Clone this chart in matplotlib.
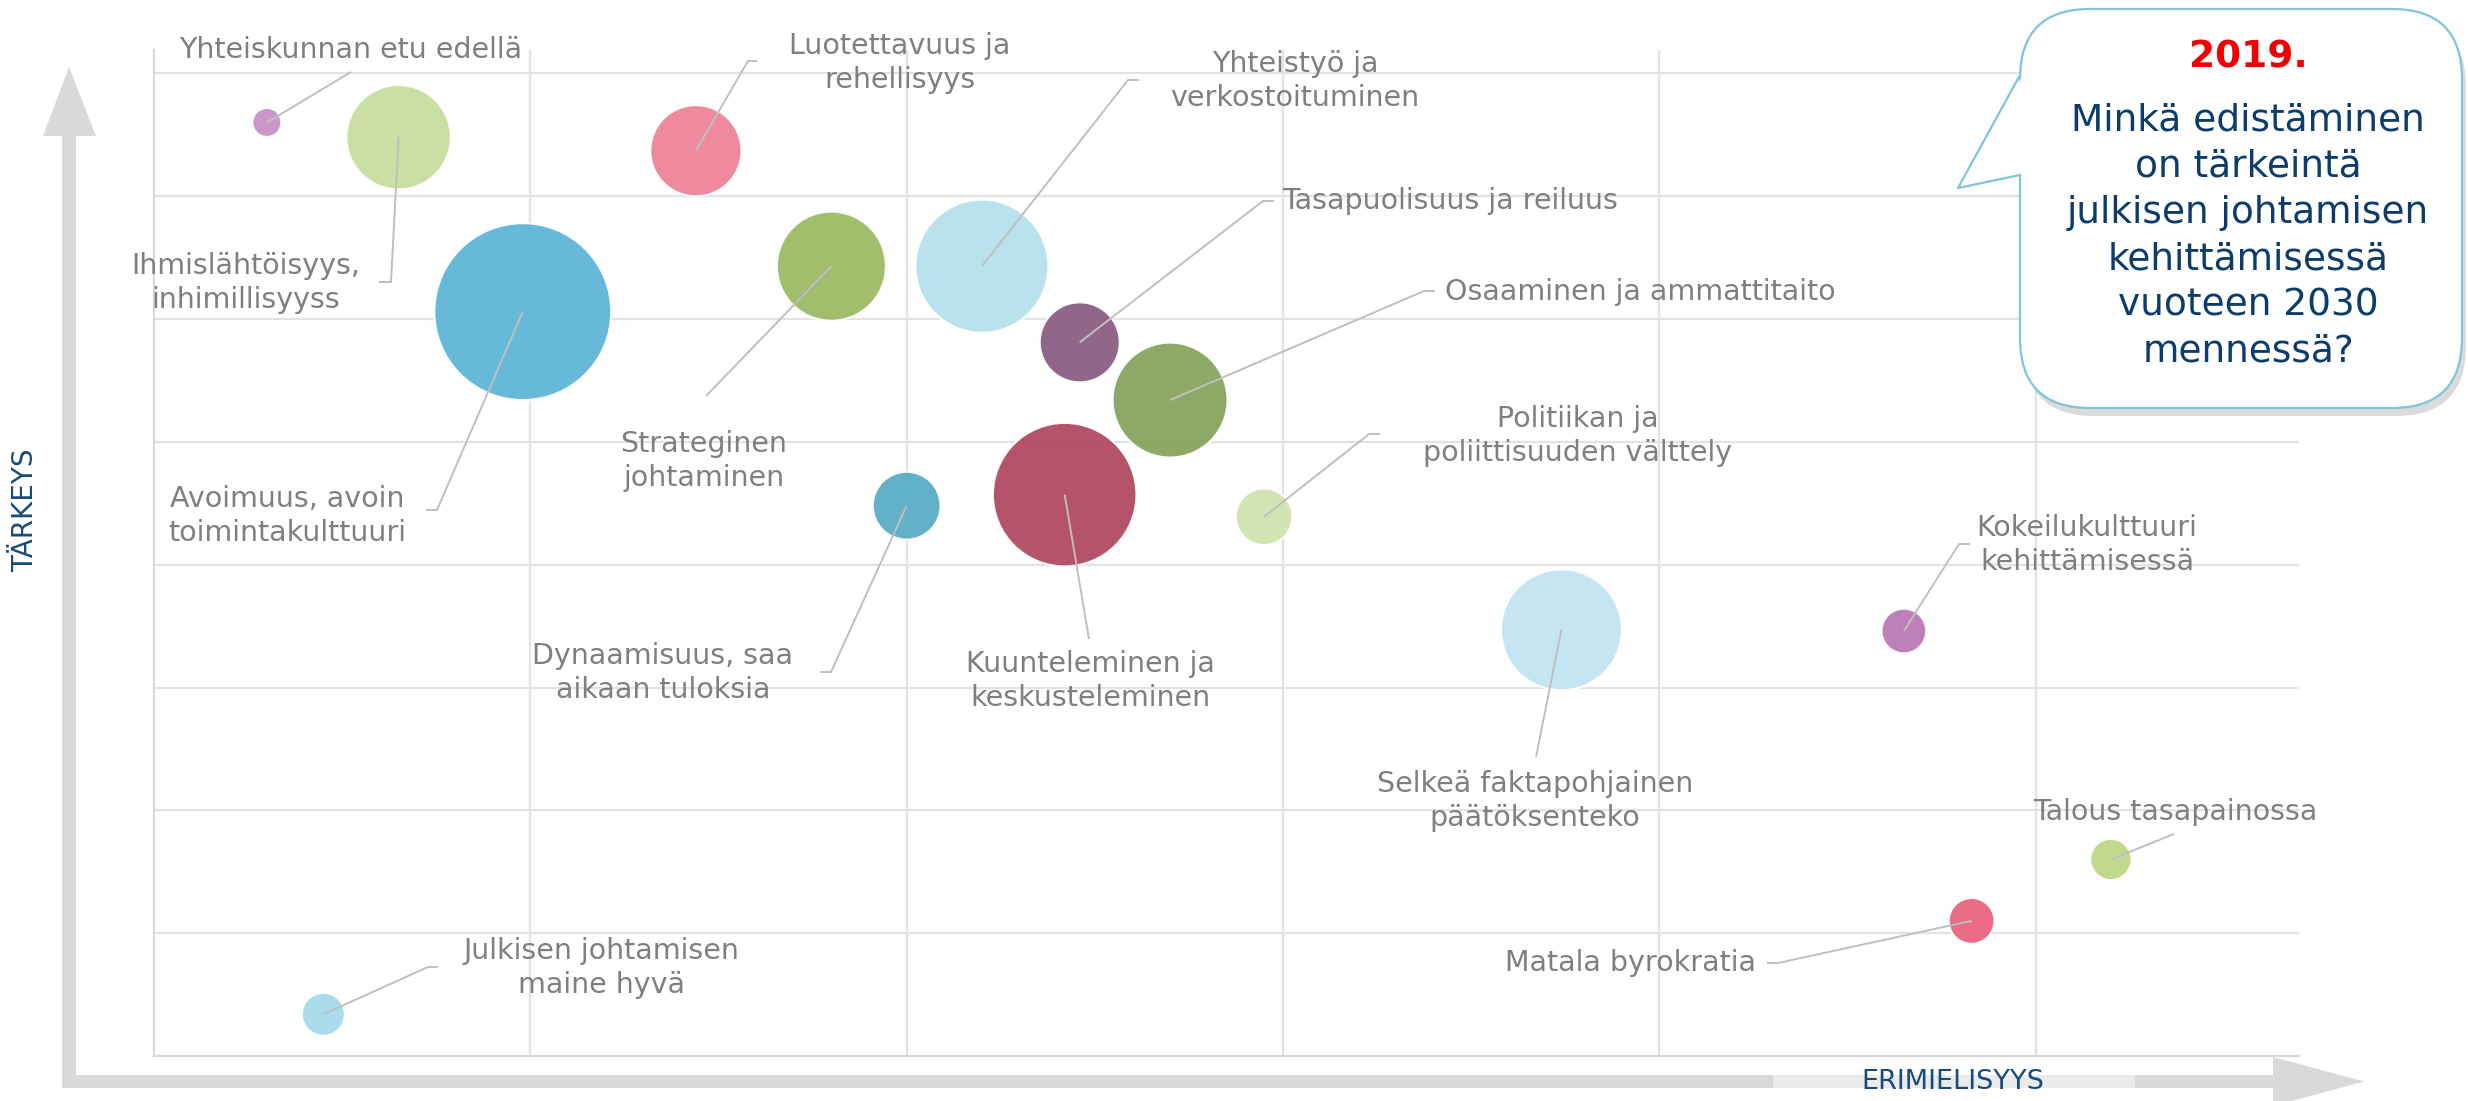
import matplotlib
matplotlib.use("Agg")
import matplotlib.pyplot as plt
from matplotlib.patches import FancyBboxPatch, Polygon, Rectangle

plt.rcParams['font.family'] = ['DejaVu Sans']

# ---------------- data ----------------
categories = [
    "Yhteiskunnan etu edellä",
    "Ihmislähtöisyys,\ninhimillisyyss",
    "Luotettavuus ja\nrehellisyys",
    "Avoimuus, avoin\ntoimintakulttuuri",
    "Strateginen\njohtaminen",
    "Yhteistyö ja\nverkostoituminen",
    "Tasapuolisuus ja reiluus",
    "Osaaminen ja ammattitaito",
    "Dynaamisuus, saa\naikaan tuloksia",
    "Kuunteleminen ja\nkeskusteleminen",
    "Politiikan ja\npoliittisuuden välttely",
    "Selkeä faktapohjainen\npäätöksenteko",
    "Kokeilukulttuuri\nkehittämisessä",
    "Talous tasapainossa",
    "Matala byrokratia",
    "Julkisen johtamisen\nmaine hyvä",
]
erimielisyys = [0.30, 0.65, 1.44, 0.98, 1.80, 2.20, 2.46, 2.70, 2.00, 2.42, 2.95, 3.74, 4.65, 5.20, 4.83, 0.45]
tarkeys = [7.60, 7.48, 7.37, 6.06, 6.43, 6.43, 5.81, 5.34, 4.48, 4.57, 4.39, 3.47, 3.46, 1.60, 1.10, 0.34]
bubble_size = [8.4, 109, 83, 313, 119, 177, 64, 132, 46, 206, 32, 146, 20, 17, 21, 18.5]
colors = ["#C990C6", "#C8DE9E", "#EF8399", "#5FB5D7", "#9DBB65", "#B5E1EC", "#8A5F82", "#88A35D",
          "#5BADC6", "#B04A62", "#D0E3AE", "#C2E4F0", "#BC78B4", "#BDD787", "#EA6481", "#A6DCEA"]

x_axis_title = "ERIMIELISYYS"
y_axis_title = "TÄRKEYS"
bubble_year = "2019."
bubble_question = "Minkä edistäminen\non tärkeintä\njulkisen johtamisen\nkehittämisessä\nvuoteen 2030\nmennessä?"

# label layout (figure pixels): text centre, alignment, leader-line waypoints
label_layout = [
    ((351, 50), 'center', [(351, 72)]),
    ((246, 283), 'center', [(391, 282), (379, 282)]),
    ((900, 63), 'center', [(748, 61), (757, 61)]),
    ((287, 516), 'center', [(437, 510), (426, 510)]),
    ((704, 461), 'center', [(706, 396)]),
    ((1295, 81), 'center', [(1128, 80), (1139, 80)]),
    ((1282, 201), 'left', [(1263, 201), (1274, 201)]),
    ((1445, 292), 'left', [(1424, 291), (1435, 291)]),
    ((663, 673), 'center', [(831, 672), (820, 672)]),
    ((1090, 681), 'center', [(1089, 639)]),
    ((1578, 436), 'center', [(1369, 434), (1380, 434)]),
    ((1535, 801), 'center', [(1536, 757)]),
    ((2087, 545), 'center', [(1959, 544), (1970, 544)]),
    ((2175, 812), 'center', [(2174, 834)]),
    ((1631, 963), 'center', [(1778, 963), (1767, 963)]),
    ((601, 968), 'center', [(428, 967), (438, 967)]),
]

W, H = 2468, 1101
fig = plt.figure(figsize=(W / 100, H / 100), dpi=100)
fig.patch.set_facecolor('white')

ax_l, ax_r, ax_t, ax_b = 154, 2299, 50, 1056
XMAX, YMAX = 5.70, 8.19
ax = fig.add_axes([ax_l / W, 1 - ax_b / H, (ax_r - ax_l) / W, (ax_b - ax_t) / H])
ax.set_xlim(0, XMAX)
ax.set_ylim(0, YMAX)
ax.set_xticks(range(1, 6))
ax.set_yticks(range(1, 9))
ax.tick_params(length=0, labelbottom=False, labelleft=False)
ax.grid(True, color="#E3E3E3", lw=1.6)
ax.set_axisbelow(True)
for s in ['top', 'right']:
    ax.spines[s].set_visible(False)
for s in ['left', 'bottom']:
    ax.spines[s].set_color("#D9D9D9")
    ax.spines[s].set_linewidth(1.6)


def px2data(p):
    return ((p[0] - ax_l) / (ax_r - ax_l) * XMAX, (ax_b - p[1]) / (ax_b - ax_t) * YMAX)


ax.scatter(erimielisyys, tarkeys, s=[v * 100 * 0.5184 for v in bubble_size], c=colors,
           alpha=0.95, edgecolors='white', linewidths=1.5, zorder=3, clip_on=False)

for i, (cat, (tpos, ha, path)) in enumerate(zip(categories, label_layout)):
    pts = [(erimielisyys[i], tarkeys[i])] + [px2data(p) for p in path]
    ax.plot([p[0] for p in pts], [p[1] for p in pts], color="#BFBFBF", lw=1.4,
            zorder=4, clip_on=False, solid_capstyle='butt')
    tx, ty = px2data(tpos)
    ax.text(tx, ty, cat, ha=ha, va='center', multialignment='center', fontsize=20.5,
            color="#7F7F7F", linespacing=1.3, zorder=5, clip_on=False)

# ---------------- overlay (pixel coordinates) ----------------
ov = fig.add_axes([0, 0, 1, 1], zorder=10)
ov.set_xlim(0, W)
ov.set_ylim(H, 0)
ov.axis('off')
ov.patch.set_alpha(0)

arrow_col = "#D9D9D9"
ov.add_patch(Polygon([(62, 1088), (62, 136), (43, 136), (69, 67), (96, 136), (76, 136), (76, 1075),
                      (2273, 1075), (2273, 1057), (2364, 1081.5), (2273, 1106), (2273, 1088)],
                     closed=True, facecolor=arrow_col, edgecolor='none'))
ov.add_patch(Rectangle((1773, 1075), 362, 13, facecolor="#EBEBEB", edgecolor='none'))
ov.text(1953, 1082, x_axis_title, ha='center', va='center', fontsize=19.5, color="#164B7B")
ov.text(25, 510, y_axis_title, ha='center', va='center', rotation=90, fontsize=20, color="#164B7B")

# speech bubble
bx0, by0, bw, bh = 2020, 9, 442, 399
ov.add_patch(FancyBboxPatch((bx0 + 4, by0 + 8), bw, bh, boxstyle="round,pad=0,rounding_size=70",
                            facecolor="#9A9A9A", edgecolor='none', alpha=0.35))
ov.add_patch(FancyBboxPatch((bx0, by0), bw, bh, boxstyle="round,pad=0,rounding_size=70",
                            facecolor='white', edgecolor="#7EC5DD", lw=1.6))
ov.add_patch(Polygon([(2023, 75), (1958, 188), (2023, 175)], closed=True, facecolor='white',
                     edgecolor='none'))
ov.plot([2020, 1958, 2020], [75, 188, 175], color="#7EC5DD", lw=1.6)
ov.text(2248, 57, bubble_year, ha='center', va='center', fontsize=27, fontweight='bold', color="#F00000")
ov.text(2248, 236, bubble_question, ha='center', va='center', multialignment='center', fontsize=27,
        color="#0B3C6B", linespacing=1.37)

fig.savefig("out.png", dpi=100)
